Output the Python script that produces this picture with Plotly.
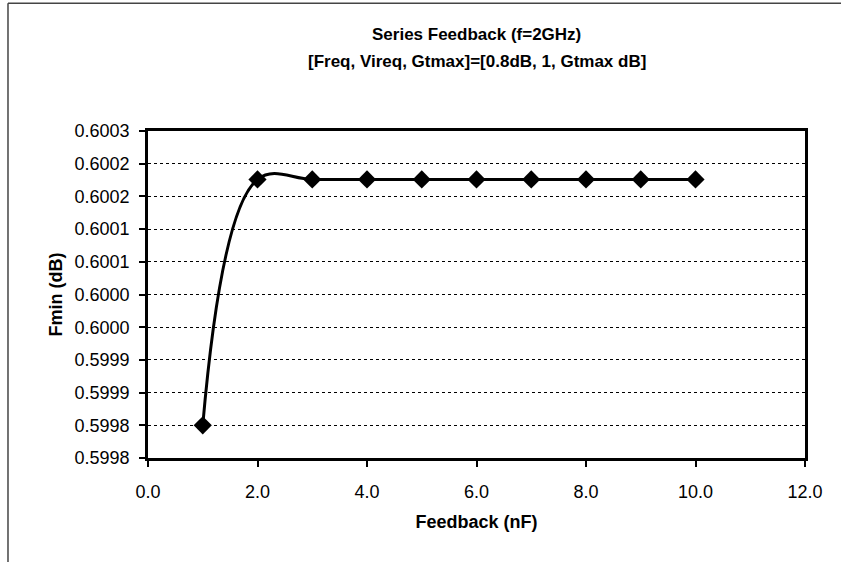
import plotly.graph_objects as go

feedback_nf = [1, 2, 3, 4, 5, 6, 7, 8, 9, 10]
fmin_db = [0.59985, 0.600226, 0.600226, 0.600226, 0.600226, 0.600226,
           0.600226, 0.600226, 0.600226, 0.600226]

y_tickvals = [0.59980, 0.59985, 0.59990, 0.59995, 0.60000, 0.60005,
              0.60010, 0.60015, 0.60020, 0.60025, 0.60030]
y_ticktext = ["0.5998", "0.5998", "0.5999", "0.5999", "0.6000", "0.6000",
              "0.6001", "0.6001", "0.6002", "0.6002", "0.6003"]
x_tickvals = [0, 2, 4, 6, 8, 10, 12]
x_ticktext = ["0.0", "2.0", "4.0", "6.0", "8.0", "10.0", "12.0"]

title_lines = ["Series Feedback (f=2GHz)", "[Freq, Vireq, Gtmax]=[0.8dB, 1, Gtmax dB]"]

FONT = "Liberation Sans, Arial, sans-serif"

fig = go.Figure()
fig.add_trace(go.Scatter(
    x=feedback_nf, y=fmin_db, mode="lines+markers",
    line=dict(color="black", width=3, shape="spline", smoothing=1.1),
    marker=dict(symbol="diamond", size=14, color="black"),
    showlegend=False,
))

fig.update_layout(
    width=841, height=562,
    margin=dict(l=148, r=36, t=131, b=104),
    paper_bgcolor="white", plot_bgcolor="white",
    font=dict(family=FONT, size=18, color="black"),
    xaxis=dict(
        range=[0, 12], tickvals=x_tickvals, ticktext=x_ticktext,
        showgrid=False, zeroline=False,
        showline=True, linecolor="black", linewidth=2.5, mirror=True,
        ticks="outside", ticklen=6, tickcolor="black", tickwidth=1.5,
        ticklabelstandoff=10,
        tickfont=dict(size=18),
        title=dict(text="<b>Feedback (nF)</b>", font=dict(size=18), standoff=15),
    ),
    yaxis=dict(
        range=[0.59980, 0.60030], tickvals=y_tickvals, ticktext=y_ticktext,
        showgrid=True, gridcolor="black", griddash="dot", gridwidth=1,
        zeroline=False,
        showline=True, linecolor="black", linewidth=2.5, mirror=True,
        ticks="outside", ticklen=6, tickcolor="black", tickwidth=1.5,
        ticklabelstandoff=6,
        tickfont=dict(size=18),
        title=dict(text="<b>Fmin (dB)</b>", font=dict(size=18), standoff=8),
    ),
    annotations=[
        dict(text="<b>%s</b>" % title_lines[0], xref="paper", yref="paper",
             x=0.5, y=1.294, xanchor="center", yanchor="middle", showarrow=False,
             font=dict(family=FONT, size=17, color="black")),
        dict(text="<b>%s</b>" % title_lines[1], xref="paper", yref="paper",
             x=0.5, y=1.214, xanchor="center", yanchor="middle", showarrow=False,
             font=dict(family=FONT, size=17, color="black")),
    ],
    shapes=[
        dict(type="line", xref="paper", yref="paper", x0=-0.2131, x1=1.06, y0=1.391, y1=1.391,
             line=dict(color="#444", width=1.5)),
        dict(type="line", xref="paper", yref="paper", x0=-0.2131, x1=-0.2131, y0=1.391, y1=-0.35,
             line=dict(color="#444", width=1.5)),
    ],
)

fig.write_html("out.html")
